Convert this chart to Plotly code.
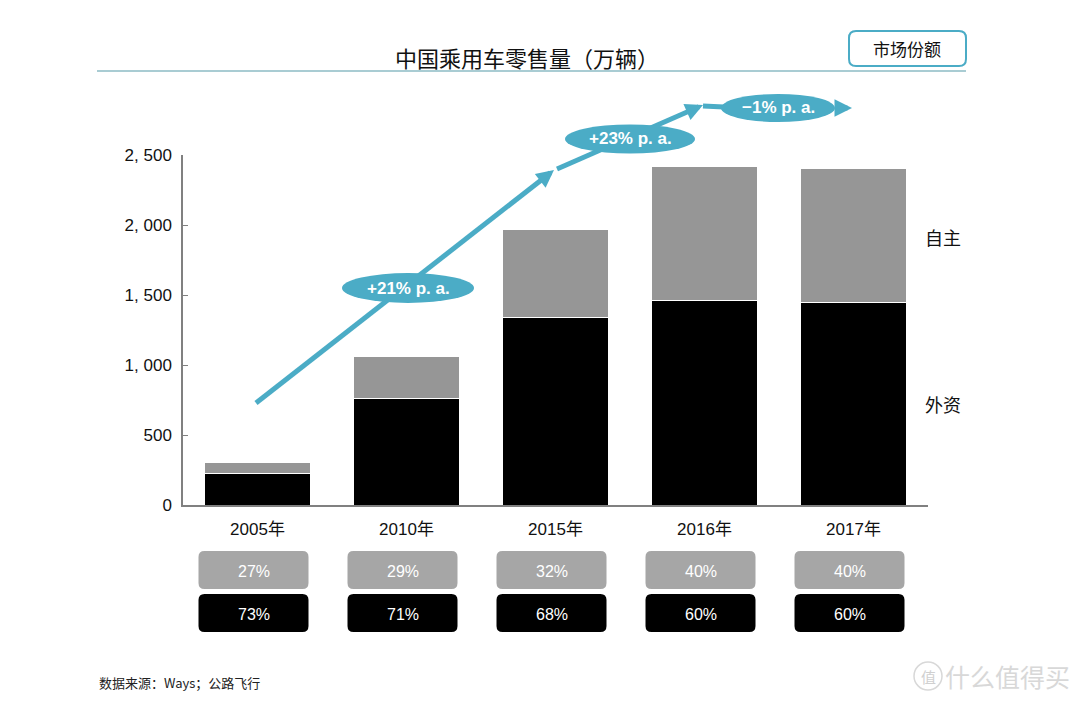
import plotly.graph_objects as go

# ---------------- data ----------------
years = ["2005年", "2010年", "2015年", "2016年", "2017年"]
foreign = [222, 762, 1336, 1461, 1449]      # 外资 (black)
domestic = [82, 302, 633, 960, 953]         # 自主 (gray)
share_domestic = ["27%", "29%", "32%", "40%", "40%"]
share_foreign = ["73%", "71%", "68%", "60%", "60%"]
y_ticks = [0, 500, 1000, 1500, 2000, 2500]
y_tick_labels = ["0", "500", "1, 000", "1, 500", "2, 000", "2, 500"]
cagr_labels = ["+21% p. a.", "+23% p. a.", "−1% p. a."]

# ---------------- layout geometry (page pixels) ----------------
W, H = 1080, 703
OFF = 8                      # page body margin
L, R, T, B = 183, 928, 155, 505   # plot area as seen on the page
TEAL = "#4BACC6"
CJK = "Noto Sans CJK SC"
SANS = "Liberation Sans, Arial, sans-serif"


def px(x):
    return (x - L) / (R - L)


def py(y):
    return (B - y) / (B - T)


def rr_path(x0, y0, x1, y1, r):
    pts = [
        ("M", [(x0 + r, y0)]), ("L", [(x1 - r, y0)]), ("Q", [(x1, y0), (x1, y0 + r)]),
        ("L", [(x1, y1 - r)]), ("Q", [(x1, y1), (x1 - r, y1)]), ("L", [(x0 + r, y1)]),
        ("Q", [(x0, y1), (x0, y1 - r)]), ("L", [(x0, y0 + r)]), ("Q", [(x0, y0), (x0 + r, y0)]),
    ]
    s = ""
    for cmd, ps in pts:
        s += cmd + " " + " ".join(f"{px(a):.5f},{py(b):.5f}" for a, b in ps) + " "
    return s + "Z"


fig = go.Figure()
fig.add_trace(go.Bar(x=years, y=foreign, name="外资", marker=dict(color="#000000", line=dict(color="white", width=1))))
fig.add_trace(go.Bar(x=years, y=domestic, name="自主", marker=dict(color="#969696", line=dict(color="white", width=1))))

shapes = []
annotations = []


def text(x, y, s, size, color="#111", family=CJK, anchor="center"):
    annotations.append(dict(x=px(x), y=py(y), xref="paper", yref="paper", text=s, showarrow=False,
                            font=dict(family=family, size=size, color=color), xanchor=anchor, yanchor="middle"))


# title + underline
text(527, 57, "中国乘用车零售量（万辆）", 22, "#111")
shapes.append(dict(type="line", xref="paper", yref="paper", x0=px(97), x1=px(966), y0=py(71), y1=py(71),
                   line=dict(color="#8DBBC4", width=1.5)))
# market share box
shapes.append(dict(type="path", xref="paper", yref="paper", path=rr_path(849, 31, 966, 66, 7),
                   line=dict(color=TEAL, width=2), fillcolor="white"))
text(907, 48, "市场份额", 17)

# legend labels
text(943, 237, "自主", 18)
text(943, 404, "外资", 18)

# share boxes
n = len(years)
step = (R - L) / n
for i in range(n):
    cx = L + step * (i + 0.5) - 4
    shapes.append(dict(type="path", xref="paper", yref="paper", path=rr_path(cx - 55, 551, cx + 55, 589, 6),
                       line=dict(width=0), fillcolor="#A6A6A6"))
    shapes.append(dict(type="path", xref="paper", yref="paper", path=rr_path(cx - 55, 594, cx + 55, 632, 6),
                       line=dict(width=0), fillcolor="#000000"))
    text(cx, 571, share_domestic[i], 16, "white", SANS)
    text(cx, 614, share_foreign[i], 16, "white", SANS)

# growth arrows
segs = [((256, 403), (554, 170)), ((557, 169), (703, 105))]
for (x0, y0), (x1, y1) in segs:
    dx, dy = x1 - x0, y1 - y0
    ln = (dx * dx + dy * dy) ** 0.5
    ux, uy = dx / ln, dy / ln
    shapes.append(dict(type="line", xref="paper", yref="paper", x0=px(x0), y0=py(y0),
                       x1=px(x1 - 8 * ux), y1=py(y1 - 8 * uy), line=dict(color=TEAL, width=5)))
    annotations.append(dict(x=px(x1), y=py(y1), xref="paper", yref="paper", text="", showarrow=True,
                            ax=-16 * ux, ay=-16 * uy, arrowhead=2, arrowsize=0.7, arrowwidth=5, arrowcolor=TEAL))
shapes.append(dict(type="line", xref="paper", yref="paper", x0=px(703), y0=py(106), x1=px(724), y1=py(107),
                   line=dict(color=TEAL, width=5)))
annotations.append(dict(x=px(852), y=py(108), xref="paper", yref="paper", text="", showarrow=True,
                        ax=-16, ay=0, arrowhead=2, arrowsize=0.7, arrowwidth=5, arrowcolor=TEAL))

ellipses = [(408, 288, 132, 30), (630, 139, 130, 29), (778, 108, 114, 28)]
for (cx, cy, w, h), lab in zip(ellipses, cagr_labels):
    shapes.append(dict(type="circle", xref="paper", yref="paper", x0=px(cx - w / 2), x1=px(cx + w / 2),
                       y0=py(cy + h / 2), y1=py(cy - h / 2), line=dict(width=0), fillcolor=TEAL))
    text(cx, cy, "<b>" + lab + "</b>", 17, "white", SANS)

# source
text(97, 682, "数据来源：Ways；公路飞行", 13, "#222", CJK, "left")
# watermark
shapes.append(dict(type="circle", xref="paper", yref="paper", x0=px(914), x1=px(942), y0=py(690), y1=py(662),
                   line=dict(color="#D8D8D8", width=1.5)))
text(928, 676, "值", 15, "#D0D0D0")
text(1007, 676, "什么值得买", 25, "#D8D8D8")

fig.update_layout(
    width=W, height=H,
    margin=dict(l=L - OFF, r=W - R + OFF, t=T - OFF, b=H - B + OFF),
    paper_bgcolor="white", plot_bgcolor="white",
    barmode="stack", bargap=0.29,
    showlegend=False,
    shapes=shapes, annotations=annotations,
    xaxis=dict(type="category", range=[-0.5, n - 0.5], showline=True, linecolor="#808080", linewidth=1.5,
               ticks="", showgrid=False, tickfont=dict(family="Liberation Sans, " + CJK, size=17, color="#111"),
               ticklabelstandoff=8),
    yaxis=dict(range=[0, 2500], tickvals=y_ticks, ticktext=y_tick_labels, showline=True, linecolor="#808080",
               linewidth=1.5, ticks="inside", ticklen=5, tickcolor="#808080", showgrid=False, zeroline=False,
               tickfont=dict(family=SANS, size=17, color="#111"),
               ticklabelstandoff=6),
)

fig.write_html("out.html")
